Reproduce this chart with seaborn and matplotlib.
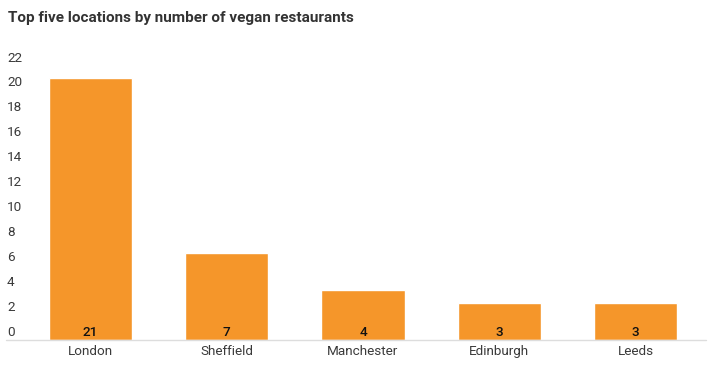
import matplotlib
matplotlib.use('Agg')
import matplotlib.pyplot as plt
import matplotlib.transforms as mtransforms
import seaborn as sns

locations = ['London', 'Sheffield', 'Manchester', 'Edinburgh', 'Leeds']
counts = [21, 7, 4, 3, 3]
yticks = [0, 2, 4, 6, 8, 10, 12, 14, 16, 18, 20, 22]

sns.set_style('white')
plt.rcParams['font.family'] = ['Roboto', 'DejaVu Sans']

W, H = 719, 369
fig = plt.figure(figsize=(W / 100, H / 100), dpi=100)
ax = fig.add_axes([22 / W, (H - 340) / H, (704 - 22) / W, (340 - 66) / H])

sns.barplot(x=locations, y=counts, color='#f5962a', saturation=1, width=0.61, ax=ax)
ax.set_xlim(-0.5, 4.5)
ax.set_ylim(0, 22)
sns.despine(ax=ax, left=True, bottom=True, top=True, right=True)
ax.set_xlabel('')
ax.set_ylabel('')
ax.set_yticks([])
ax.tick_params(axis='x', length=0, pad=3.5, labelsize=9.7, labelcolor='#3a3a3a')

# baseline extends under the y labels
ax.axhline(0, xmin=(6 - 22) / 682, xmax=(706 - 22) / 682, color='#dddddd', lw=1, clip_on=False)

# y labels sit just above their values, left aligned
up = mtransforms.ScaledTranslation(0, 1.5 / 100, fig.dpi_scale_trans)
trans = mtransforms.blended_transform_factory(fig.transFigure, ax.transData) + up
for t in yticks:
    ax.text(7 / W, t, str(t), transform=trans, ha='left', va='bottom',
            fontsize=9.7, color='#3a3a3a', clip_on=False)

# value labels at bar bottoms
vtrans = ax.transData + up
for i, v in enumerate(counts):
    ax.text(i, 0, str(v), transform=vtrans, ha='center', va='bottom',
            fontsize=9.7, fontweight='medium', color='#111111')

fig.text(8 / W, 1 - 18 / H, 'Top five locations by number of vegan restaurants',
         ha='left', va='center', fontsize=11, fontweight='bold', color='#333333')

fig.savefig('out.png', dpi=100)
